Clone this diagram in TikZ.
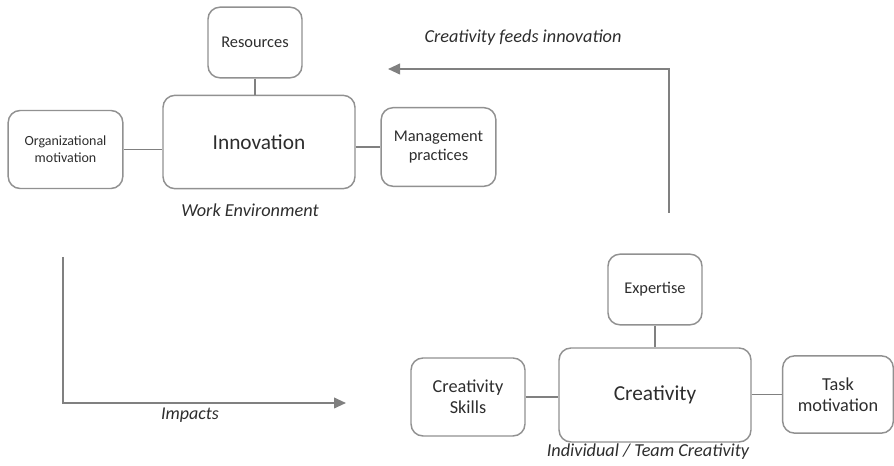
\documentclass[tikz,border=0pt]{standalone}
\usepackage{fontspec}
\setmainfont{Carlito}
\usetikzlibrary{positioning,arrows.meta}
\definecolor{boxgray}{RGB}{145,145,145}
\definecolor{linkgray}{RGB}{128,128,128}
\definecolor{textgray}{RGB}{45,45,45}
\tikzset{
    factor box/.style={
        rectangle,
        draw=boxgray,
        line width=1.1pt,
        rounded corners=9pt,
        inner sep=0pt,
        align=center,
        text=textgray,
        font=\fontsize{12.3}{14.5}\selectfont,
    },
    core box/.style={factor box, font=\fontsize{16}{19}\selectfont},
    caption label/.style={text=textgray, font=\fontsize{13.7}{16}\selectfont\itshape},
    link/.style={draw=linkgray, line width=1.1pt},
    flow/.style={draw=linkgray, line width=1.4pt, -{Triangle[length=9pt,width=8pt]}},
}

\begin{document}
\begin{tikzpicture}[x=0.75pt,y=-0.75pt]
\useasboundingbox (0,0) rectangle (894,466);

%Work environment group
\node[core box, minimum width=144pt, minimum height=70pt] (innov) at (259,142) {Innovation};
\node[factor box, minimum width=70.5pt, minimum height=53pt] (res) at (255,42.5) {Resources};
\node[factor box, minimum width=86pt, minimum height=58.5pt, font=\fontsize{10.5}{12.5}\selectfont] (orgmot) at (65.5,149.5) {Organizational\\motivation};
\node[factor box, minimum width=86pt, minimum height=59pt] (mgmt) at (438.5,147) {Management\\practices};
\node[caption label] (workenv) at (250,210) {Work Environment};

\draw[link] (res.south) -- (res.south |- innov.north);
\draw[link] (orgmot.east) -- (innov.west |- orgmot.east);
\draw[link] (innov.east |- mgmt.west) -- (mgmt.west);

%Individual / team group
\node[core box, minimum width=144pt, minimum height=70.5pt] (creat) at (655,395) {Creativity};
\node[factor box, minimum width=70.5pt, minimum height=53pt] (expert) at (655,289.5) {Expertise};
\node[factor box, minimum width=85.5pt, minimum height=58.5pt, font=\fontsize{13.7}{16}\selectfont] (skills) at (468,397) {Creativity\\Skills};
\node[factor box, minimum width=83pt, minimum height=58pt, font=\fontsize{13.7}{16}\selectfont] (task) at (838,394.5) {Task\\motivation};
\node[caption label] (team) at (648,452) {Individual / Team Creativity};

\draw[link] (expert.south) -- (creat.north);
\draw[link] (skills.east) -- (creat.west |- skills.east);
\draw[link] (creat.east |- task.west) -- (task.west);

%Feedback arrows
\coordinate (feedsfrom) at (669,213);
\coordinate (feedsto) at (388,69);
\draw[flow] (feedsfrom) |- (feedsto);
\node[caption label] (feedslabel) at (523,38) {Creativity feeds innovation};

\coordinate (impactsfrom) at (63,257);
\coordinate (impactsto) at (346,403);
\draw[flow] (impactsfrom) |- (impactsto);
\node[caption label, font=\fontsize{13.5}{16}\selectfont\itshape] (impactslabel) at (190,415) {Impacts};

\end{tikzpicture}
\end{document}
